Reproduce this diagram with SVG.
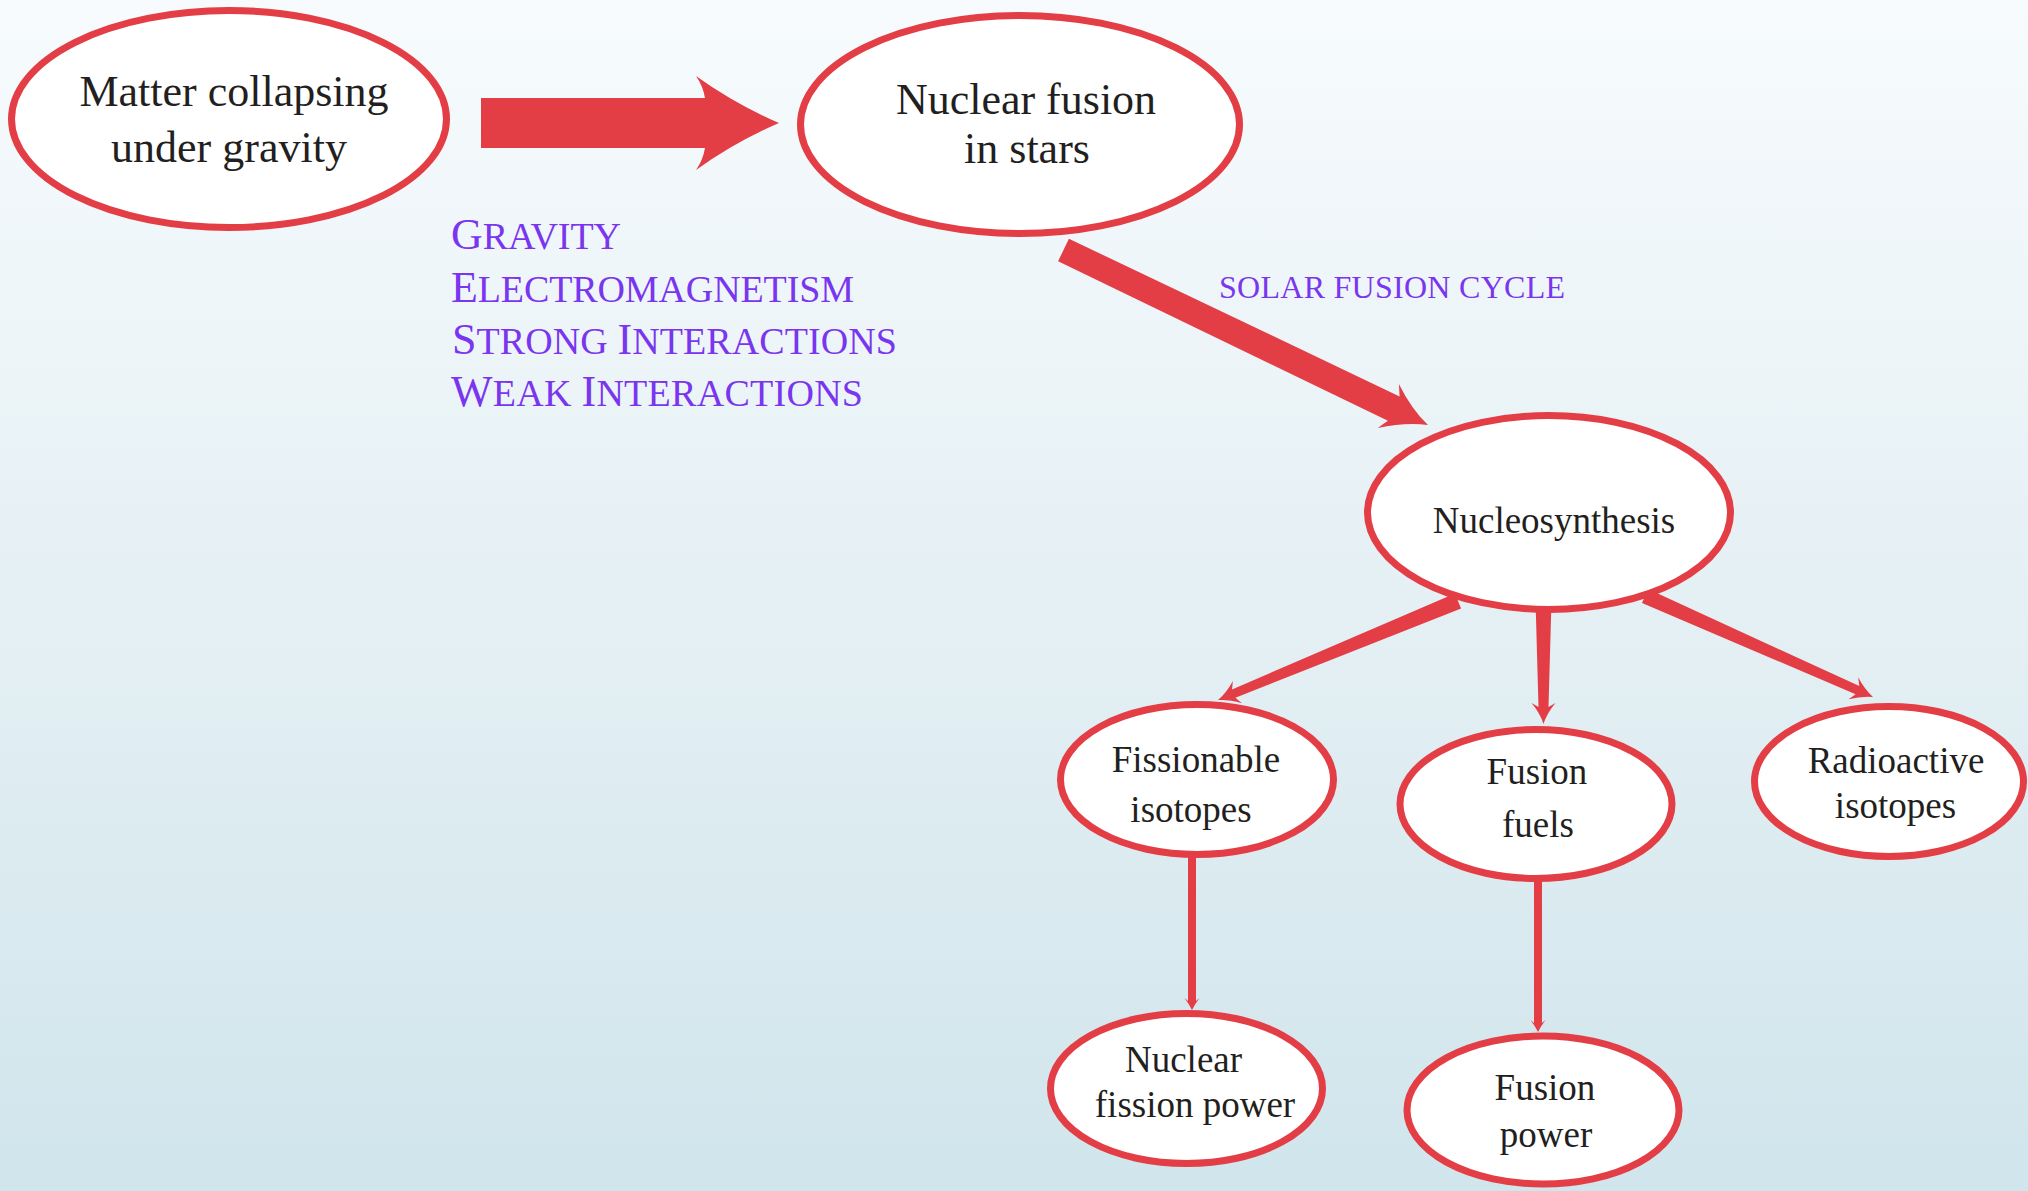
<svg xmlns="http://www.w3.org/2000/svg" width="2028" height="1191" viewBox="0 0 2028 1191">
  <defs>
    <linearGradient id="bg" x1="0" y1="0" x2="0" y2="1">
      <stop offset="0" stop-color="#f7fbfd"/>
      <stop offset="0.5" stop-color="#e5f0f4"/>
      <stop offset="1" stop-color="#d0e5ec"/>
    </linearGradient>
    <style>
      .node ellipse { fill: #ffffff; stroke: #e33e46; stroke-width: 7; }
      .node text { font-family: "Liberation Serif", "Times New Roman", serif; fill: #231f20; text-anchor: middle; }
      .big { font-size: 44px; }
      .small { font-size: 37px; }
      .arrow { fill: #e33e46; stroke: none; }
      .force { font-family: "Liberation Serif", "Times New Roman", serif; fill: #7a35ef; font-size: 38px; }
      .force .cap { font-size: 44px; }
      .cycle { font-family: "Liberation Serif", "Times New Roman", serif; fill: #7a35ef; font-size: 32px; }
    </style>
  </defs>

  <rect x="0" y="0" width="2028" height="1191" fill="url(#bg)"/>

  <!-- connectors (drawn first so node outlines sit over the tails) -->
  <g id="connectors">
    <!-- gravity collapse feeds fusion -->
    <path class="arrow" d="M481,98 L705,98 Q703,86 696,76 Q735,104 779,123 Q735,142 696,170 Q703,160 705,148 L481,148 Z"/>
    <!-- fusion to nucleosynthesis -->
    <path class="arrow" d="M1058.1,261.3 L1068.9,238.7 L1399.6,396.4 L1398.9,383.9 Q1411.3,409 1428,425 Q1405.1,422.1 1377.7,428.1 L1387.9,420.7 Z"/>
    <!-- nucleosynthesis branches -->
    <path class="arrow" d="M1454.9,593.6 L1232,689.4 L1232.9,680.9 Q1226.4,692.8 1218,700 Q1229,699.3 1241.9,703.2 L1235.4,697.8 L1461.1,608.4 Z"/>
    <path class="arrow" d="M1535.5,600 L1538.5,707 L1531.5,703 Q1540,713 1543.5,724 Q1547,713 1555.5,703 L1548.5,707 L1551.5,600 Z"/>
    <path class="arrow" d="M1648,589.1 L1859.3,686 L1858.2,677.3 Q1864.6,689.5 1873,697 Q1861.8,695.9 1848.5,699.3 L1855.6,694.2 L1642,602.9 Z"/>
    <!-- to power generation -->
    <path class="arrow" d="M1188,850 L1188,1001 L1184.5,998 Q1189,1004 1192,1010 Q1195,1004 1199.5,998 L1196,1001 L1196,850 Z"/>
    <path class="arrow" d="M1534,875 L1534,1023 L1530.5,1020 Q1535,1026 1538,1032 Q1541,1026 1545.5,1020 L1542,1023 L1542,875 Z"/>
  </g>

  <!-- force list -->
  <g id="forces">
    <text class="force" x="451" y="249" textLength="170"><tspan class="cap">G</tspan>RAVITY</text>
    <text class="force" x="451" y="302" textLength="403"><tspan class="cap">E</tspan>LECTROMAGNETISM</text>
    <text class="force" x="452" y="354" textLength="445"><tspan class="cap">S</tspan>TRONG <tspan class="cap">I</tspan>NTERACTIONS</text>
    <text class="force" x="451" y="406" textLength="412"><tspan class="cap">W</tspan>EAK <tspan class="cap">I</tspan>NTERACTIONS</text>
  </g>

  <text id="cycle-label" class="cycle" x="1219" y="298" textLength="346">SOLAR FUSION CYCLE</text>

  <g id="matter" class="node">
    <ellipse cx="229" cy="119" rx="217.5" ry="108.5"/>
    <text class="big" x="234" y="106">Matter collapsing</text>
    <text class="big" x="229" y="162">under gravity</text>
  </g>

  <g id="fusion-stars" class="node">
    <ellipse cx="1020" cy="124.5" rx="219.5" ry="109"/>
    <text class="big" x="1026" y="114">Nuclear fusion</text>
    <text class="big" x="1027" y="163">in stars</text>
  </g>

  <g id="nucleosynthesis" class="node">
    <ellipse cx="1549" cy="512.5" rx="181.5" ry="97"/>
    <text class="small" x="1554" y="533">Nucleosynthesis</text>
  </g>

  <g id="fissionable" class="node">
    <ellipse cx="1197" cy="779.5" rx="136.5" ry="75"/>
    <text class="small" x="1196" y="772">Fissionable</text>
    <text class="small" x="1191" y="822">isotopes</text>
  </g>

  <g id="fusion-fuels" class="node">
    <ellipse cx="1536" cy="804" rx="136" ry="74.5"/>
    <text class="small" x="1537" y="784">Fusion</text>
    <text class="small" x="1538" y="837">fuels</text>
  </g>

  <g id="radioactive" class="node">
    <ellipse cx="1889" cy="781.5" rx="134.5" ry="75"/>
    <text class="small" x="1896" y="773">Radioactive</text>
    <text class="small" x="1895.5" y="818">isotopes</text>
  </g>

  <g id="fission-power" class="node">
    <ellipse cx="1186.5" cy="1088.5" rx="136" ry="75"/>
    <text class="small" x="1183.5" y="1072">Nuclear</text>
    <text class="small" x="1195" y="1117">fission power</text>
  </g>

  <g id="fusion-power" class="node">
    <ellipse cx="1543" cy="1110" rx="136" ry="74"/>
    <text class="small" x="1545" y="1100">Fusion</text>
    <text class="small" x="1546" y="1147">power</text>
  </g>
</svg>
